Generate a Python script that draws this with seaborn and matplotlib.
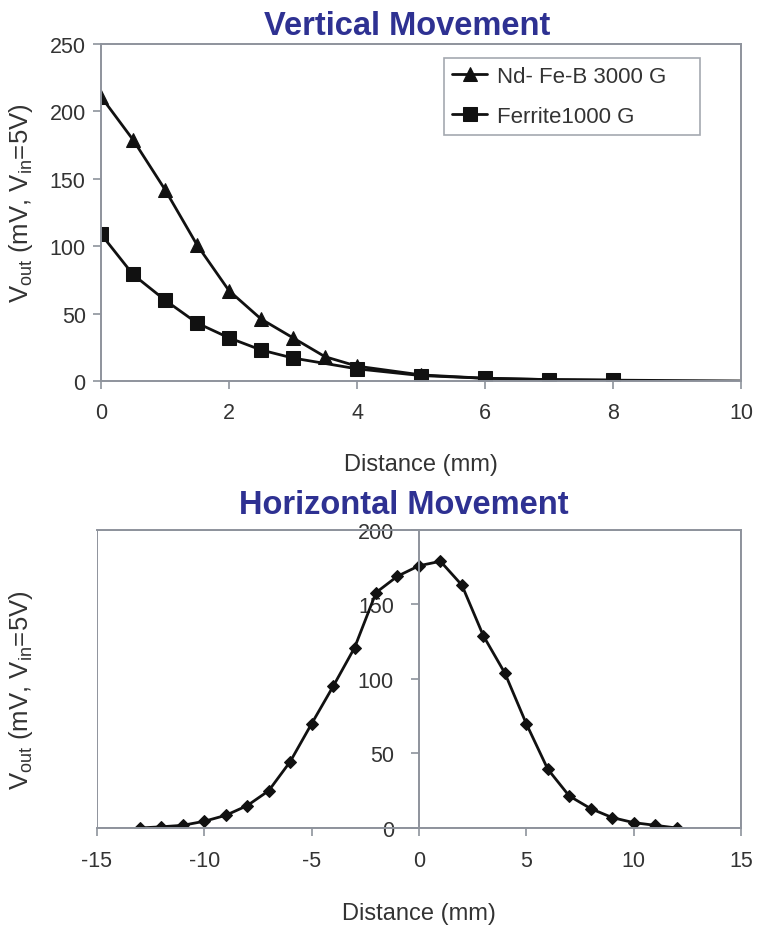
import matplotlib
matplotlib.use("Agg")
import matplotlib.pyplot as plt
import seaborn as sns
import pandas as pd
from matplotlib.patches import Rectangle

# ---- data ----
nd_x = [0, 0.5, 1, 1.5, 2, 2.5, 3, 3.5, 4, 5, 6, 7, 8, 10]
nd_y = [211, 179, 142, 101, 67, 46, 32, 18, 11, 4.5, 2, 1, 0.6, 0]
fe_x = [0, 0.5, 1, 1.5, 2, 2.5, 3, 4, 5, 6, 7, 8]
fe_y = [109, 79, 60, 43, 32, 23, 17, 9, 4, 2, 1, 0.6]

h_x = [-13, -12, -11, -10, -9, -8, -7, -6, -5, -4, -3, -2, -1,
       0, 1, 2, 3, 4, 5, 6, 7, 8, 9, 10, 11, 12]
h_y = [0, 0.8, 1.8, 4.5, 8.5, 15, 25, 44.5, 70, 95, 121, 158, 169,
       176, 179, 163, 129, 104, 70, 39.5, 21.5, 13, 7, 3.6, 1.8, 0]

top_xticks = [0, 2, 4, 6, 8, 10]
top_yticks = [0, 50, 100, 150, 200, 250]
bot_xticks = [-15, -10, -5, 0, 5, 10, 15]
bot_yticks = [0, 50, 100, 150, 200]
labels = ["Nd- Fe-B 3000 G", "Ferrite1000 G"]

# ---- style ----
sns.set_style("white")
plt.rcParams["font.family"] = ["Liberation Sans", "DejaVu Sans"]
plt.rcParams["axes.unicode_minus"] = False
plt.rcParams["mathtext.fontset"] = "custom"
plt.rcParams["mathtext.rm"] = "Liberation Sans"
plt.rcParams["mathtext.it"] = "Liberation Sans:italic"
plt.rcParams["mathtext.bf"] = "Liberation Sans:bold"

frame_c = "#8e939c"
text_c = "#333333"
title_c = "#2e3192"
line_c = "#111111"
ylab = r"V$_\mathrm{out}$ (mV, V$_\mathrm{in}$=5V)"

fig = plt.figure(figsize=(7.57, 9.28), dpi=100)
ax1 = fig.add_axes([0.1334, 0.5884, 0.8455, 0.3631])
ax2 = fig.add_axes([0.1281, 0.1067, 0.8507, 0.3211])

# ---- top chart ----
df_nd = pd.DataFrame({"x": nd_x, "y": nd_y})
df_fe = pd.DataFrame({"x": fe_x, "y": fe_y})
sns.lineplot(data=df_nd, x="x", y="y", ax=ax1, color=line_c, lw=2.0,
             marker="^", markersize=10.5, markeredgecolor=line_c,
             markevery=list(range(len(nd_x) - 1)), label=labels[0])
sns.lineplot(data=df_fe, x="x", y="y", ax=ax1, color=line_c, lw=2.0,
             marker="s", markersize=9.5, markeredgecolor=line_c,
             label=labels[1])
ax1.set_xlim(0, 10)
ax1.set_ylim(0, 250)
ax1.set_xticks(top_xticks)
ax1.set_yticks(top_yticks)
for s in ax1.spines.values():
    s.set_color(frame_c)
    s.set_linewidth(1.4)
ax1.tick_params(axis="both", direction="out", length=6, width=1.2,
                color=frame_c, labelsize=15.5, labelcolor=text_c,
                bottom=True, left=True)
ax1.tick_params(axis="x", pad=9)
ax1.tick_params(axis="y", pad=5)
ax1.set_xlabel("Distance (mm)", fontsize=17, color=text_c, labelpad=22)
ax1.set_ylabel("")
ax1.set_title("Vertical Movement", fontsize=23.5, fontweight="bold",
              color=title_c, pad=7, x=0.478)
leg = ax1.legend(loc="upper left", bbox_to_anchor=(0.536, 0.0, 0.4, 0.957),
                 mode="expand", fontsize=16, frameon=True, fancybox=False,
                 borderpad=0.35, handlelength=1.6, handletextpad=0.45,
                 labelspacing=0.85, borderaxespad=0.0, edgecolor=frame_c)
leg.get_frame().set_linewidth(1.2)
for t in leg.get_texts():
    t.set_color(text_c)
fig.text(0.028, 0.781, ylab, rotation=90, fontsize=18.5, color=text_c,
         ha="center", va="center")

# ---- bottom chart ----
df_h = pd.DataFrame({"x": h_x, "y": h_y})
sns.lineplot(data=df_h, x="x", y="y", ax=ax2, color=line_c, lw=2.0,
             marker="D", markersize=6, markeredgecolor=line_c)
ax2.set_xlim(-15, 15)
ax2.set_ylim(0, 200)
ax2.set_xticks(bot_xticks)
ax2.set_yticks(bot_yticks)
ax2.spines["left"].set_position(("data", 0))
for s in ax2.spines.values():
    s.set_color(frame_c)
    s.set_linewidth(1.4)
ax2.add_patch(Rectangle((0, 0), 1, 1, transform=ax2.transAxes, fill=False,
                        edgecolor=frame_c, lw=1.4, zorder=0.5))
ax2.tick_params(axis="both", direction="out", length=6, width=1.2,
                color=frame_c, labelsize=15.5, labelcolor=text_c,
                bottom=True, left=True)
ax2.tick_params(axis="x", pad=10)
ax2.tick_params(axis="y", pad=12)
ax2.set_xlabel("Distance (mm)", fontsize=17, color=text_c, labelpad=22)
ax2.set_ylabel("")
fig.text(0.028, 0.256, ylab, rotation=90, fontsize=18.5, color=text_c,
         ha="center", va="center")
ax2.set_title("Horizontal Movement", fontsize=23.5, fontweight="bold",
              color=title_c, pad=12, x=0.477)

fig.savefig("out.png", dpi=100, facecolor="white")
